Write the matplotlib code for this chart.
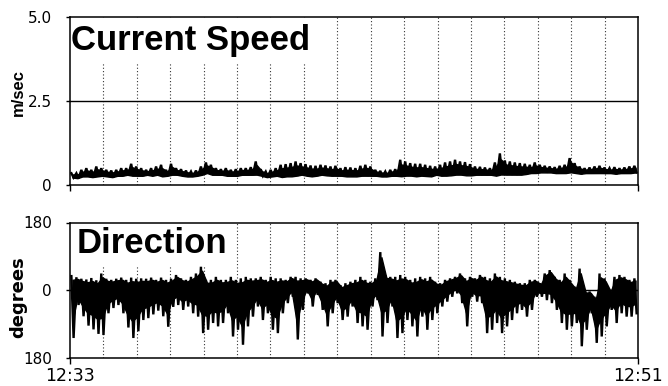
import numpy as np
import matplotlib
matplotlib.use("Agg")
import matplotlib.pyplot as plt
from matplotlib.patches import Rectangle

# ---------------- data ----------------
start_label = "12:33"
end_label = "12:51"
duration_min = 18.0

# Current speed (m/sec): per ~9.5 s bin, upper and lower excursion
speed_hi = [0.35, 0.35, 0.45, 0.50, 0.45, 0.55, 0.50, 0.45, 0.43, 0.45,
            0.50, 0.50, 0.63, 0.55, 0.50, 0.45, 0.50, 0.55, 0.60, 0.45,
            0.63, 0.50, 0.47, 0.43, 0.40, 0.43, 0.55, 0.67, 0.60, 0.50,
            0.47, 0.50, 0.45, 0.47, 0.50, 0.50, 0.53, 0.70, 0.47, 0.40,
            0.45, 0.50, 0.60, 0.62, 0.65, 0.70, 0.65, 0.62, 0.58, 0.57,
            0.60, 0.58, 0.55, 0.57, 0.50, 0.53, 0.52, 0.50, 0.57, 0.60,
            0.55, 0.45, 0.42, 0.40, 0.45, 0.47, 0.75, 0.70, 0.65, 0.63,
            0.63, 0.60, 0.57, 0.55, 0.60, 0.67, 0.70, 0.75, 0.70, 0.68,
            0.62, 0.55, 0.54, 0.52, 0.50, 0.67, 0.94, 0.73, 0.70, 0.67,
            0.65, 0.63, 0.60, 0.67, 0.60, 0.57, 0.55, 0.53, 0.57, 0.60,
            0.80, 0.65, 0.55, 0.50, 0.52, 0.55, 0.57, 0.52, 0.50, 0.53,
            0.50, 0.52, 0.55, 0.57]
speed_lo = [0.22, 0.20, 0.25, 0.25, 0.23, 0.25, 0.27, 0.25, 0.23, 0.27,
            0.27, 0.30, 0.27, 0.27, 0.27, 0.30, 0.27, 0.30, 0.25, 0.27,
            0.30, 0.30, 0.27, 0.25, 0.25, 0.27, 0.30, 0.35, 0.30, 0.30,
            0.30, 0.27, 0.27, 0.27, 0.30, 0.30, 0.30, 0.30, 0.27, 0.23,
            0.25, 0.27, 0.23, 0.25, 0.25, 0.27, 0.30, 0.27, 0.25, 0.27,
            0.30, 0.28, 0.27, 0.27, 0.27, 0.25, 0.25, 0.25, 0.27, 0.27,
            0.27, 0.27, 0.25, 0.25, 0.27, 0.27, 0.25, 0.27, 0.27, 0.25,
            0.27, 0.26, 0.25, 0.30, 0.27, 0.27, 0.28, 0.30, 0.30, 0.28,
            0.28, 0.30, 0.30, 0.30, 0.30, 0.27, 0.30, 0.30, 0.30, 0.30,
            0.30, 0.32, 0.35, 0.35, 0.37, 0.37, 0.37, 0.35, 0.35, 0.35,
            0.37, 0.35, 0.33, 0.35, 0.35, 0.35, 0.35, 0.35, 0.35, 0.33,
            0.35, 0.35, 0.35, 0.37]

# Direction (degrees): per bin, upper and lower excursion
dir_hi = [37, 34, 30, 28, 32, 26, 44, 30, 27, 30,
          33, 27, 33, 30, 31, 30, 33, 27, 33, 27,
          30, 40, 31, 27, 35, 44, 62, 27, 27, 35,
          27, 27, 35, 27, 31, 35, 31, 31, 35, 27,
          35, 31, 31, 27, 35, 35, 31, 31, 27, 31,
          22, 18, 27, 27, 13, 18, 22, 27, 35, 27,
          22, 31, 101, 40, 35, 35, 40, 35, 27, 31,
          35, 31, 35, 22, 18, 27, 31, 35, 44, 31,
          35, 31, 40, 35, 31, 44, 35, 31, 27, 22,
          18, 18, 27, 27, 18, 44, 53, 35, 27, 44,
          27, 9, 57, 0, -4, -18, 44, 31, 0, 35,
          40, 35, 27, 31]
dir_lo = [-128, -40, -70, -95, -105, -117, -120, -62, -48, -40,
          -62, -100, -128, -110, -80, -75, -65, -55, -70, -98,
          -45, -40, -53, -44, -62, -71, -115, -106, -88, -97,
          -88, -62, -124, -106, -146, -97, -71, -44, -80, -62,
          -106, -115, -62, -35, -18, -132, -53, -9, -44, -13,
          -53, -97, -62, -35, -80, -71, -44, -88, -97, -106,
          -44, -27, -124, -88, -44, -128, -115, -80, -97, -124,
          -71, -106, -80, -62, -44, -31, -18, -9, -35, -97,
          -18, -31, -35, -115, -106, -88, -115, -97, -80, -62,
          -53, -71, -53, -18, -18, -27, -35, -53, -88, -106,
          -97, -88, -150, -106, -62, -141, -124, -97, -53, -88,
          -62, -71, -71, -62]

speed_ticks = [0, 2.5, 5.0]
speed_tick_labels = ["0", "2.5", "5.0"]
dir_ticks = [-180, 0, 180]
dir_tick_labels = ["180", "0", "180"]


def draw_band(ax, hi, lo, t_end, core_from_top):
    """Dense solid core near the steady side, needle-like excursions beyond."""
    hi = np.asarray(hi, float)
    lo = np.asarray(lo, float)
    n = len(hi)
    w = t_end / n
    tc = (np.arange(n) + 0.5) * w
    span = hi - lo
    if core_from_top:
        c_hi, c_lo = hi - 0.06 * span, hi - 0.72 * span
    else:
        c_hi, c_lo = lo + 0.72 * span, lo + 0.02 * span
    ax.fill_between(tc, c_lo, c_hi, color="black", lw=1.0, zorder=3)
    t = np.column_stack([tc - 0.22 * w, tc + 0.22 * w]).ravel()
    v = np.column_stack([hi, lo]).ravel()
    ax.plot(t, v, color="black", lw=1.7, zorder=3, solid_joinstyle="miter")


fig = plt.figure(figsize=(6.68, 3.86), dpi=100)
W, H = 668.0, 386.0
ax1 = fig.add_axes([70 / W, 1 - 185 / H, 568 / W, 168 / H])
ax2 = fig.add_axes([70 / W, 1 - 357.5 / H, 568 / W, 135 / H])

grid_x = np.linspace(0, duration_min, 18)[1:-1]

tick_font = dict(family="DejaVu Sans", size=11)
title_font = dict(family="Liberation Sans", weight="bold", size=25)

for ax in (ax1, ax2):
    ax.set_xlim(0, duration_min)
    for gx in grid_x:
        ax.axvline(gx, color="0.2", lw=0.8, ls=(0, (1, 2)), zorder=1)
    for s in ax.spines.values():
        s.set_linewidth(1.1)
        s.set_color("black")
    ax.set_xticks([0, duration_min])
    ax.tick_params(axis="x", direction="out", length=4, width=1.0, pad=3)
    ax.tick_params(axis="y", direction="out", length=3, width=1.0, pad=10)

# ---- speed panel ----
draw_band(ax1, speed_hi, speed_lo, duration_min, core_from_top=False)
ax1.axhline(2.5, color="black", lw=1.0, zorder=2)
ax1.set_ylim(0, 5.0)
ax1.set_yticks(speed_ticks)
ax1.set_yticklabels(speed_tick_labels, **tick_font)
ax1.set_xticklabels([])
ax1.add_patch(Rectangle((0.003, 0.726), 0.46, 0.27, transform=ax1.transAxes,
                        facecolor="white", edgecolor="none", zorder=1.5))
ax1.text(0.002, 0.804, "Current Speed", transform=ax1.transAxes,
         ha="left", va="baseline", zorder=4, **title_font)

# ---- direction panel ----
draw_band(ax2, dir_hi, dir_lo, duration_min, core_from_top=True)
ax2.axhline(0, color="black", lw=1.0, zorder=4)
ax2.set_ylim(-180, 180)
ax2.set_yticks(dir_ticks)
ax2.set_yticklabels(dir_tick_labels, **tick_font)
ax2.set_xticklabels([start_label, end_label], family="DejaVu Sans", size=12.5)
ax2.add_patch(Rectangle((0.003, 0.67), 0.285, 0.325, transform=ax2.transAxes,
                        facecolor="white", edgecolor="none", zorder=1.5))
ax2.text(0.012, 0.772, "Direction", transform=ax2.transAxes,
         ha="left", va="baseline", zorder=4, **title_font)

fig.text(18 / W, 1 - 92 / H, "m/sec", rotation=90, ha="center", va="center",
         family="Liberation Sans", weight="bold", size=12)
fig.text(18 / W, 1 - 297 / H, "degrees", rotation=90, ha="center", va="center",
         family="DejaVu Sans", weight="bold", size=13)

fig.savefig("out.png", dpi=100)
